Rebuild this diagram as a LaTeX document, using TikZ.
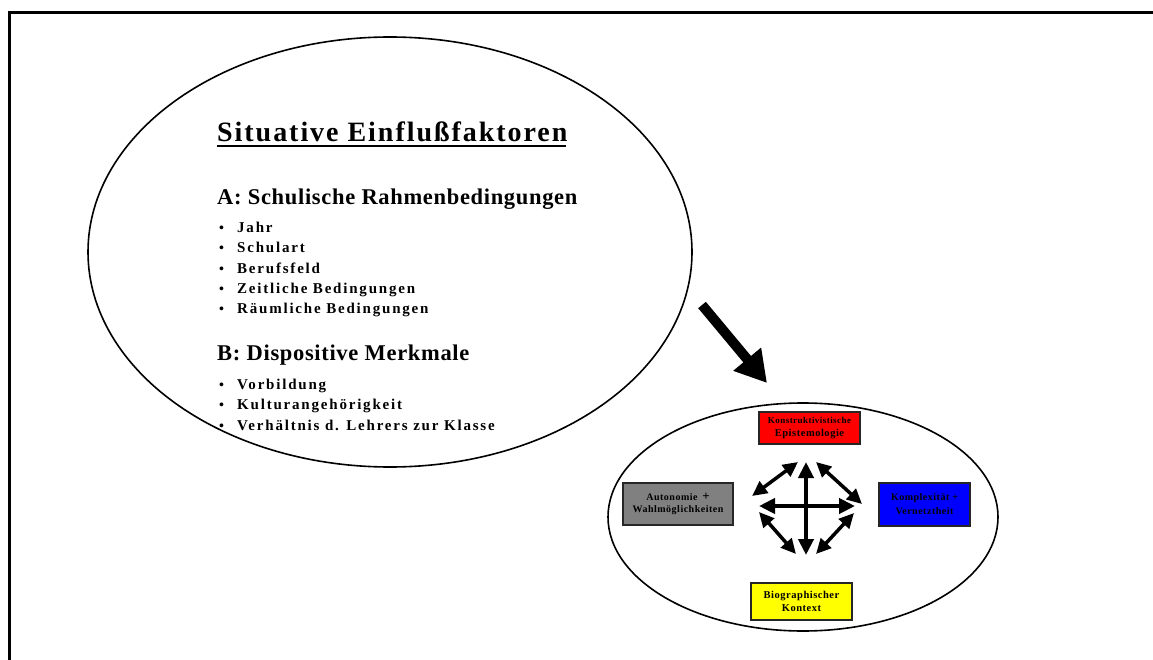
\documentclass[tikz,border=0pt]{standalone}
\usepackage{fontspec}
\setmainfont{Liberation Serif}
\usetikzlibrary{shapes.geometric,arrows.meta}
\newfontfamily\titlefont[LetterSpace=7]{Liberation Serif}
\newfontfamily\wide[LetterSpace=3]{Liberation Serif}
\newfontfamily\items[LetterSpace=12]{Liberation Serif}
\newfontfamily\boxfont[LetterSpace=5]{Liberation Serif}
\definecolor{boxred}{RGB}{255,0,0}
\definecolor{boxblue}{RGB}{0,0,255}
\definecolor{boxyellow}{RGB}{255,255,0}
\definecolor{boxgray}{RGB}{128,128,128}
\tikzset{
  oval/.style={draw=black,line width=1.6pt,ellipse,inner sep=0pt},
  txt/.style={anchor=base west,inner sep=0pt,font=\bfseries},
  heading/.style={txt,font=\wide\bfseries\fontsize{22.5}{26}\selectfont},
  item/.style={anchor=base west,inner sep=0pt,font=\items\bfseries\fontsize{15}{17}\selectfont},
  dot/.style={anchor=base west,inner sep=0pt,font=\bfseries\fontsize{14}{16}\selectfont},
  factor/.style={draw=black!85,line width=1.6pt,rectangle,inner sep=0pt,align=center,
    font=\boxfont\bfseries\fontsize{10}{12.5}\selectfont},
  twoway/.style={line width=4pt,{Triangle[width=15pt,length=16pt]}-{Triangle[width=15pt,length=16pt]}},
  diag/.style={line width=3.5pt,{Triangle[width=14pt,length=15pt]}-{Triangle[width=14pt,length=15pt]}},
  bigarrow/.style={line width=10pt,-{Triangle[width=34pt,length=31pt]}}
}
\begin{document}
\begin{tikzpicture}[x=1pt,y=-1pt]
\useasboundingbox (0,0) rectangle (1153,660);
% outer frame (open to the right and bottom)
\draw[line width=3pt] (1153,12.5) -- (9.5,12.5) -- (9.5,660);

% left ellipse with the situational factors
\node[oval,minimum width=604pt,minimum height=430pt] (situ) at (390,252) {};
\node[txt,font=\titlefont\bfseries\fontsize{28}{32}\selectfont] (title) at (217,142) {Situative Einflußfaktoren};
\draw[line width=2.4pt] ([yshift=-4pt]title.base west) -- ([yshift=-4pt,xshift=-2pt]title.base east);
\node[heading] (ha) at (217,205) {A: Schulische Rahmenbedingungen};
\foreach \y/\t [count=\i] in {233/Jahr,253/Schulart,273/Berufsfeld,293/Zeitliche Bedingungen,313/Räumliche Bedingungen}{
  \node[dot] (ba\i) at (219,\y) {•};
  \node[item] (ia\i) at (237,\y) {\t};
}
\node[heading] (hb) at (217,360) {B: Dispositive Merkmale};
\foreach \y/\t [count=\i] in {389/Vorbildung,409/Kulturangehörigkeit,430/Verhältnis d. Lehrers zur Klasse}{
  \node[dot] (bb\i) at (219,\y) {•};
  \node[item] (ib\i) at (237,\y) {\t};
}

% arrow towards the right ellipse
\coordinate (from) at (702,305);
\coordinate (to) at (767,383);
\draw[bigarrow] (from) -- (to);

% right ellipse with the four factors
\node[oval,minimum width=390pt,minimum height=228pt] (core) at (803,517) {};
\node[factor,fill=boxred,minimum width=101pt,minimum height=32pt] (epi) at (809.5,428)
  {{\fontsize{9}{11}\selectfont Konstruktivistische}\\{\fontsize{10.5}{12}\selectfont Epistemologie}};
\node[factor,fill=boxblue,minimum width=91pt,minimum height=43pt,font=\boxfont\bfseries\fontsize{10}{14}\selectfont] (kom) at (924.5,504.5)
  {Komplexität +\\Vernetztheit};
\node[factor,fill=boxyellow,minimum width=101pt,minimum height=37pt,font=\boxfont\bfseries\fontsize{10.5}{12.5}\selectfont] (bio) at (801.5,601.5)
  {Biographischer\\Kontext};
\node[factor,fill=boxgray,minimum width=110pt,minimum height=42pt] (aut) at (678,504)
  {Autonomie \,{\fontsize{13}{12}\selectfont +}\\Wahlmöglichkeiten};

% interaction arrows in the middle
\coordinate (n) at (806,462);
\coordinate (s) at (806,555);
\coordinate (w) at (759,506);
\coordinate (e) at (855,506);
\coordinate (ula) at (752,496);
\coordinate (ulb) at (798,462);
\coordinate (ura) at (816,462);
\coordinate (urb) at (862,504);
\coordinate (lla) at (759,512);
\coordinate (llb) at (796,554);
\coordinate (lra) at (816,554);
\coordinate (lrb) at (854,513);
\draw[twoway] (n) -- (s);
\draw[twoway] (w) -- (e);
\draw[diag] (ula) -- (ulb);
\draw[diag] (ura) -- (urb);
\draw[diag] (lla) -- (llb);
\draw[diag] (lra) -- (lrb);
\end{tikzpicture}
\end{document}
